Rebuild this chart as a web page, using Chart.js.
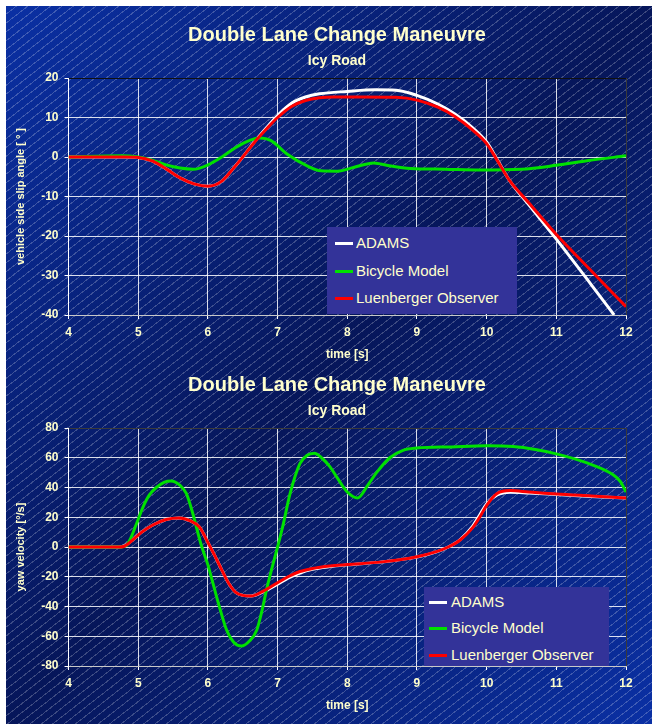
<!DOCTYPE html>
<html lang="en">
<head>
  <meta charset="UTF-8" />
  <title>Double Lane Change Maneuvre</title>
  <script src="https://cdn.jsdelivr.net/npm/chart.js"></script>
  <style>
    body {
      margin: 0;
      background: #fff;
      font-family: 'Liberation Sans', Arial, sans-serif;
    }

    #panel {
      position: absolute;
      left: 6px;
      top: 6px;
      width: 646px;
      height: 718px;
      overflow: hidden;
      background:
        repeating-linear-gradient(142deg, rgba(255,255,255,0) 0px, rgba(255,255,255,0) 6px, rgba(255,255,255,0.22) 6px, rgba(255,255,255,0.22) 7px),
        linear-gradient(to bottom right, #0a30a4 0%, #06165a 50%, #0a30a4 100%);
    }

    .chart-box {
      position: absolute;
      left: 0;
      width: 646px;
    }

    .legend {
      position: absolute;
      background: #333399;
      color: #ffffcc;
      font-size: 15px;
    }

    .legend .row {
      position: absolute;
      left: 0;
      white-space: nowrap;
      line-height: 18px;
    }

    .legend .swatch {
      position: absolute;
      top: 8px;
      width: 18px;
      height: 3px;
    }
  </style>
</head>
<body>

  <div id="panel">
    <div class="chart-box" style="top:0; height:360px;">
      <canvas id="slipChart" width="646" height="360"></canvas>
      <div class="legend" id="slipLegend" style="left:321px; top:221px; width:190px; height:87px;"></div>
    </div>
    <div class="chart-box" style="top:360px; height:358px;">
      <canvas id="yawChart" width="646" height="358"></canvas>
      <div class="legend" id="yawLegend" style="left:418px; top:221px; width:185px; height:79px;"></div>
    </div>
  </div>

  <script>
    const seriesNames = ['ADAMS', 'Bicycle Model', 'Luenberger Observer'];
    const seriesColors = ['#ffffff', '#00e000', '#ff0000'];

    // vehicle side slip angle [deg]
    const slipAdamsT = [4, 4.8, 5.0, 5.2, 5.4, 5.6, 5.8, 6.0, 6.2, 6.35, 6.5, 6.68, 6.85, 7.0, 7.2, 7.4, 7.6, 8.0, 8.4, 8.7, 9.0, 9.3, 9.55, 9.8, 10.0, 10.15, 10.33, 10.6, 11.0, 11.5, 11.83];
    const slipAdams  = [0, 0, -0.1, -1.0, -3.0, -5.3, -6.8, -7.4, -6.1, -3.2, 0, 4.1, 7.6, 10.5, 13.6, 15.2, 16.0, 16.6, 17.0, 16.9, 15.6, 13.4, 10.8, 7.4, 3.8, -0.6, -6.0, -12.0, -20.8, -32.3, -40];

    const slipBicT = [4, 4.75, 5.0, 5.2, 5.4, 5.6, 5.79, 6.0, 6.2, 6.4, 6.6, 6.75, 6.9, 7.14, 7.43, 7.62, 7.86, 8.1, 8.38, 8.6, 8.91, 9.4, 9.9, 10.5, 11.0, 11.46, 12];
    const slipBic  = [0, 0.3, 0, -0.8, -2.0, -2.8, -3.1, -2.0, 0.0, 2.4, 4.2, 4.8, 4.2, 0.7, -2.3, -3.5, -3.6, -2.6, -1.5, -2.2, -2.9, -3.1, -3.3, -3.1, -2.1, -0.9, 0.3];

    const slipObsT = [4, 4.8, 5.0, 5.2, 5.4, 5.6, 5.8, 6.0, 6.2, 6.35, 6.5, 6.68, 6.85, 7.0, 7.2, 7.4, 7.6, 7.8, 8.2, 8.7, 9.0, 9.3, 9.55, 9.8, 10.0, 10.15, 10.33, 10.6, 11.0, 11.5, 12];
    const slipObs  = [0, 0, -0.1, -1.0, -3.0, -5.3, -6.8, -7.4, -6.1, -3.2, 0, 4.0, 7.3, 10.0, 12.8, 14.3, 15.0, 15.2, 15.2, 15.1, 14.4, 12.6, 10.2, 6.8, 3.4, -0.8, -6.0, -11.5, -19.6, -28.8, -37.9];

    // yaw velocity [deg/s]
    const yawAdamsT = [4, 4.72, 4.8, 4.92, 5.05, 5.21, 5.4, 5.59, 5.75, 5.88, 6.0, 6.1, 6.2, 6.3, 6.4, 6.5, 6.62, 6.8, 7.0, 7.15, 7.32, 7.5, 7.75, 8.0, 8.5, 9.0, 9.28, 9.45, 9.62, 9.8, 9.9, 10.0, 10.15, 10.34, 10.6, 11.0, 11.5, 12];
    const yawAdams  = [0, 0, 0.8, 4.7, 10, 14.8, 18.5, 19.5, 17.5, 13.4, 3, -6, -15.5, -24.5, -30.5, -32.5, -33, -30, -25, -21, -17.5, -15, -13.2, -12, -10, -6.8, -3.3, 0, 5, 14, 21.5, 29, 35, 36.8, 36.3, 35.3, 34, 33];

    const yawBicT = [4, 4.75, 4.83, 4.88, 4.97, 5.07, 5.16, 5.26, 5.37, 5.47, 5.6, 5.69, 5.78, 5.9, 6.0, 6.07, 6.17, 6.27, 6.37, 6.48, 6.6, 6.7, 6.77, 6.84, 6.92, 7.0, 7.08, 7.18, 7.32, 7.42, 7.53, 7.63, 7.75, 7.85, 8.0, 8.15, 8.3, 8.42, 8.61, 8.8, 9.0, 9.5, 10.0, 10.38, 10.7, 11.0, 11.44, 11.82, 11.92, 12];
    const yawBic  = [0, 0, 1, 4.7, 15, 27, 35, 40, 43.5, 44.4, 41.5, 36, 23, 2, -12, -24, -41, -56, -64, -66.6, -63, -56, -44, -29, -14, 0, 15, 36, 56, 61.5, 63, 60, 54, 47, 37, 33, 42, 50, 60, 65, 66.5, 67.3, 68, 67.5, 65.5, 62.6, 56.5, 48.4, 44, 37];

    const yawObsT = [4, 4.72, 4.8, 4.92, 5.05, 5.21, 5.4, 5.59, 5.75, 5.88, 6.0, 6.1, 6.2, 6.3, 6.4, 6.5, 6.62, 6.8, 7.0, 7.15, 7.32, 7.5, 7.75, 8.0, 8.5, 9.0, 9.28, 9.45, 9.62, 9.8, 9.9, 10.0, 10.15, 10.34, 10.6, 11.0, 11.5, 12];
    const yawObs  = [0, 0, 0.5, 4.7, 10, 14.8, 18.5, 19.5, 17.5, 13.4, 3, -6, -15.5, -24.5, -30.5, -32.5, -33, -29.5, -24, -20, -16.5, -14.5, -12.8, -11.8, -10, -6.5, -3.1, 0, 4.7, 13, 20, 28, 36, 37.9, 37, 35.6, 34.3, 33];

    const xTicks = { min: 4, max: 12, step: 1 };
    const slipTicks = { min: -40, max: 20, step: 10 };
    const yawTicks = { min: -80, max: 80, step: 20 };

    Chart.defaults.font.family = "'Liberation Sans', Arial, sans-serif";
    Chart.defaults.color = '#ffffcc';

    // the titles sit a bit right of the canvas centre in the original
    const titleShift = {
      id: 'titleShift',
      afterLayout(chart) {
        chart.boxes.forEach(b => {
          if (b.position === 'top' && b.options && b.options.text) {
            b.left += 21;
            b.right += 21;
          }
        });
      }
    };

    function toPoints(ts, vs) {
      return ts.map((t, i) => ({ x: t, y: vs[i] }));
    }

    function buildDatasets(series) {
      // red observer on top, then green, then white
      return series.map((pts, i) => ({
        label: seriesNames[i],
        data: pts,
        borderColor: seriesColors[i],
        borderWidth: 3,
        pointRadius: 0,
        fill: false,
        cubicInterpolationMode: 'monotone',
        order: 3 - i
      }));
    }

    function makeChart(id, series, yRange, yTitle, titleTop, bottomPad, topColor) {
      return new Chart(document.getElementById(id), {
        type: 'line',
        data: { datasets: buildDatasets(series) },
        plugins: [titleShift],
        options: {
          responsive: false,
          animation: false,
          layout: { padding: { top: 0, right: 26, bottom: bottomPad, left: 0 } },
          plugins: {
            legend: { display: false },
            tooltip: { enabled: false },
            title: {
              display: true,
              text: 'Double Lane Change Maneuvre',
              color: '#ffffcc',
              font: { size: 20, weight: 'bold', lineHeight: 1.2 },
              padding: { top: titleTop, bottom: 0 }
            },
            subtitle: {
              display: true,
              text: 'Icy Road',
              color: '#ffffcc',
              font: { size: 14, weight: 'bold', lineHeight: 1.2 },
              padding: { top: 5.6, bottom: 8.6 }
            }
          },
          scales: {
            x: {
              type: 'linear',
              min: xTicks.min,
              max: xTicks.max,
              ticks: { stepSize: xTicks.step, padding: 6.8, font: { size: 12, weight: 'bold' } },
              grid: {
                color: (c) => c.tick && c.tick.value === xTicks.max ? '#3a3a3a' : 'rgba(255,255,255,0.85)',
                tickColor: '#ffffff',
                tickLength: 4
              },
              border: { color: '#c8c8c8', width: 1 },
              title: {
                display: true,
                text: 'time [s]',
                font: { size: 12, weight: 'bold', lineHeight: 1.2 },
                padding: { top: 0, bottom: 0 }
              }
            },
            y: {
              min: yRange.min,
              max: yRange.max,
              ticks: { stepSize: yRange.step, padding: 6, font: { size: 12, weight: 'bold' } },
              grid: {
                color: (c) => c.tick && c.tick.value === yRange.max ? topColor : 'rgba(255,255,255,0.85)',
                tickColor: '#ffffff',
                tickLength: 4
              },
              border: { color: '#ffffff', width: 1 },
              title: {
                display: true,
                text: yTitle,
                font: { size: 11, weight: 'bold', lineHeight: 1.2 },
                padding: { top: 8, bottom: 8 }
              }
            }
          }
        }
      });
    }

    function buildLegend(id, rowTops, swatchLeft, textLeft) {
      const box = document.getElementById(id);
      seriesNames.forEach((name, i) => {
        const row = document.createElement('div');
        row.className = 'row';
        row.style.top = rowTops[i] + 'px';
        row.innerHTML = '<span class="swatch" style="left:' + swatchLeft + 'px; background:' + seriesColors[i] + '"></span>' +
          '<span style="position:absolute; left:' + textLeft + 'px;">' + name + '</span>';
        box.appendChild(row);
      });
    }

    const slipChart = makeChart('slipChart', [
      toPoints(slipAdamsT, slipAdams),
      toPoints(slipBicT, slipBic),
      toPoints(slipObsT, slipObs)
    ], slipTicks, 'vehicle side slip angle [ ° ]', 17, 4.6, '#101010');

    const yawChart = makeChart('yawChart', [
      toPoints(yawAdamsT, yawAdams),
      toPoints(yawBicT, yawBic),
      toPoints(yawObsT, yawObs)
    ], yawTicks, 'yaw velocity [°/s]', 7, 11.6, '#3a3a3a');

    buildLegend('slipLegend', [7, 35, 62], 8, 29);
    buildLegend('yawLegend', [6, 32, 59], 5, 27);
  </script>

</body>
</html>
